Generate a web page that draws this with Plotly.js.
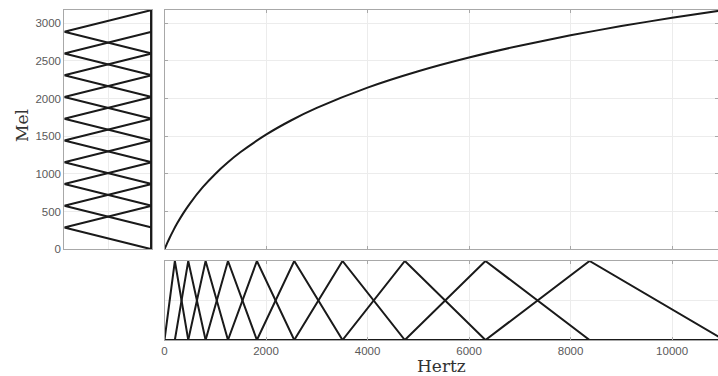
<!DOCTYPE html>
<html>
<head>
<meta charset="utf-8">
<script src="https://cdn.plot.ly/plotly-3.0.1.min.js"></script>
<style>html,body{margin:0;padding:0;background:#fff;}#chart{width:718px;height:376px;}</style>
</head>
<body>
<div id="chart"></div>
<script>
// Mel-scale curve (Hertz -> Mel)
const curveHz  = [0, 25, 50, 100, 175, 250, 375, 500, 750, 1000, 1250, 1500, 2000, 2500, 3000, 4000, 5000, 6000, 7000, 8000, 9000, 10000, 11025];
const curveMel = [0, 39.5, 77.8, 150.5, 251.5, 344.2, 483.4, 607.4, 820.7, 1000.0, 1154.6, 1290.5, 1521.4, 1712.8, 1876.4, 2146.0, 2363.5, 2545.6, 2702.4, 2840.1, 2962.7, 3073.2, 3176.3];

// Filter-bank edge/centre points (mel and their Hertz equivalents)
const melPoints = [0, 288.8, 577.5, 866.3, 1155.0, 1443.8, 1732.5, 2021.3, 2310.0, 2598.8, 2887.5, 3176.3];
const hzPoints  = [0, 204.2, 467.9, 809.7, 1250.7, 1820.6, 2556.2, 3507.1, 4735.3, 6323.4, 8374.4, 11025];

// Axis ticks
const melTicks = [0, 500, 1000, 1500, 2000, 2500, 3000];
const hzTicks  = [0, 2000, 4000, 6000, 8000, 10000];

const lineColor = '#1a1a1a';
const traces = [];
const nF = melPoints.length - 2;
for (let k = 1; k <= nF; k++) {
  // Left panel: triangles in the mel domain (amplitude horizontal, reversed)
  traces.push({
    type: 'scatter', mode: 'lines', xaxis: 'x', yaxis: 'y',
    x: [0, 0, 1, 0, 0],
    y: [melPoints[0], melPoints[k-1], melPoints[k], melPoints[k+1], melPoints[melPoints.length-1]],
    line: {color: lineColor, width: 2}, hoverinfo: 'skip', showlegend: false
  });
  // Bottom panel: triangles in the Hertz domain
  traces.push({
    type: 'scatter', mode: 'lines', xaxis: 'x3', yaxis: 'y3',
    x: [hzPoints[0], hzPoints[k-1], hzPoints[k], hzPoints[k+1], hzPoints[hzPoints.length-1]],
    y: [0, 0, 1, 0, 0],
    line: {color: lineColor, width: 2}, hoverinfo: 'skip', showlegend: false
  });
}
// Main mel curve
traces.push({
  type: 'scatter', mode: 'lines', xaxis: 'x2', yaxis: 'y2',
  x: curveHz, y: curveMel,
  line: {color: lineColor, width: 2, shape: 'spline', smoothing: 0.6},
  hoverinfo: 'skip', showlegend: false
});

const W = 718, H = 376;
const fx = p => p / W;
const fy = p => 1 - p / H;

const frame = {
  showline: true, linecolor: '#a8a8a8', linewidth: 1, mirror: 'allticks',
  showgrid: true, gridcolor: '#ececec', gridwidth: 1, zeroline: false,
  ticks: 'inside', ticklen: 3, tickcolor: '#a8a8a8',
  tickfont: {family: 'Liberation Sans, Arial, sans-serif', size: 11.5, color: '#5a5a5a'}
};
const xMax = 10905;
const melMax = melPoints[melPoints.length-1];

const layout = {
  width: W, height: H,
  margin: {l: 0, r: 0, t: 0, b: 0},
  paper_bgcolor: '#ffffff', plot_bgcolor: '#ffffff',
  showlegend: false,
  xaxis: Object.assign({}, frame, {domain: [fx(64.3), fx(151.7)], range: [1, 0], anchor: 'y',
    tickvals: [0.5], showticklabels: false, ticks: ''}),
  yaxis: Object.assign({}, frame, {domain: [fy(249.3), fy(10)], range: [0, melMax], anchor: 'x',
    tickvals: melTicks, ticktext: melTicks.map(String), showticklabels: true, ticks: ''}),
  xaxis2: Object.assign({}, frame, {domain: [fx(164.5), 1], range: [0, xMax], anchor: 'y2',
    tickvals: hzTicks, showticklabels: false}),
  yaxis2: Object.assign({}, frame, {domain: [fy(249.3), fy(10)], range: [0, melMax], anchor: 'x2',
    tickvals: melTicks, showticklabels: false}),
  xaxis3: Object.assign({}, frame, {domain: [fx(164.5), 1], range: [0, xMax], anchor: 'y3',
    tickvals: hzTicks, ticktext: hzTicks.map(String), showticklabels: true}),
  yaxis3: Object.assign({}, frame, {domain: [fy(340), fy(261)], range: [0, 1], anchor: 'x3',
    tickvals: [0.5], showticklabels: false, ticks: ''}),
  annotations: [
    {text: 'Mel', xref: 'paper', yref: 'paper', x: fx(22), y: fy(126), textangle: -90,
     showarrow: false, xanchor: 'center', yanchor: 'middle',
     font: {family: 'DejaVu Serif, serif', size: 17, color: '#333'}},
    {text: 'Hertz', xref: 'paper', yref: 'paper', x: fx(441), y: fy(366), 
     showarrow: false, xanchor: 'center', yanchor: 'middle',
     font: {family: 'DejaVu Serif, serif', size: 17, color: '#333'}}
  ]
};

Plotly.newPlot('chart', traces, layout, {staticPlot: true, displayModeBar: false});
</script>
</body>
</html>
